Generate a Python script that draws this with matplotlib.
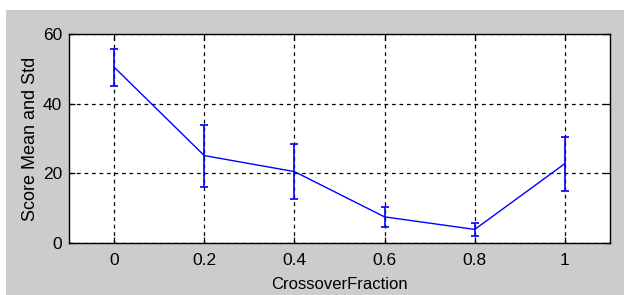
import matplotlib
matplotlib.use("Agg")
import matplotlib.pyplot as plt
from matplotlib.patches import Rectangle

x = [0, 0.2, 0.4, 0.6, 0.8, 1.0]
means = [50.5, 25.1, 20.5, 7.5, 3.9, 22.8]
stds = [5.3, 8.9, 7.9, 2.9, 1.85, 7.75]
xticks = [0, 0.2, 0.4, 0.6, 0.8, 1]
xticklabels = ["0", "0.2", "0.4", "0.6", "0.8", "1"]
yticks = [0, 20, 40, 60]

plt.rcParams['font.family'] = ['Liberation Sans', 'DejaVu Sans']

W, H = 624, 295
fig = plt.figure(figsize=(W/100, H/100), dpi=100)
fig.patch.set_facecolor('white')
fig.patches.append(Rectangle((6/W, 0), 1 - 6/W, 1 - 10/H, transform=fig.transFigure,
                             facecolor='#cccccc', edgecolor='none', zorder=-10))

ax = fig.add_axes([69/W, 1 - 243/H, (610-69)/W, (243-34)/H])
ax.set_facecolor('white')
ax.errorbar(x, means, yerr=stds, color='#0000ff', lw=1.0, elinewidth=1.2,
            capsize=3.2, capthick=1.2, zorder=3)
ax.set_xlim(-0.1, 1.1)
ax.set_ylim(0, 60)
ax.set_xticks(xticks)
ax.set_xticklabels(xticklabels)
ax.set_yticks(yticks)
ax.grid(True, color='black', linestyle=(0, (3, 3)), linewidth=0.9)
ax.tick_params(direction='in', length=4, top=True, right=True, labelsize=12.5,
               colors='black', width=0.9)
ax.tick_params(axis='x', pad=7)
ax.tick_params(axis='y', pad=5)
for s in ax.spines.values():
    s.set_color('black')
    s.set_linewidth(1.0)
ax.set_xlabel('CrossoverFraction', fontsize=12, labelpad=7)
ax.set_ylabel('Score Mean and Std', fontsize=13, labelpad=3)

fig.savefig('out.png', dpi=100)
